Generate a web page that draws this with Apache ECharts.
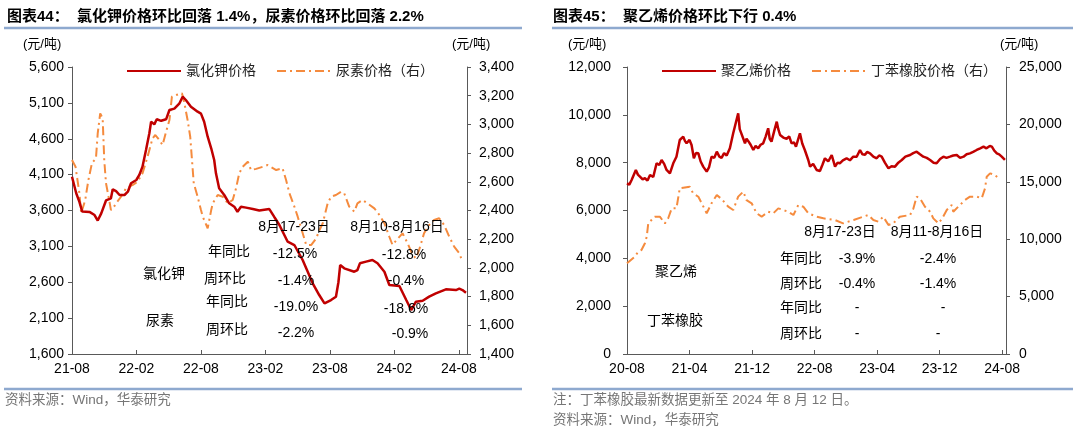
<!DOCTYPE html>
<html><head><meta charset="utf-8">
<script src="https://cdn.jsdelivr.net/npm/echarts@6/dist/echarts.min.js"></script>
<style>html,body{margin:0;padding:0;background:#fff}#c{width:1080px;height:433px}</style>
</head><body><div id="c"></div>
<script>
// ---------- Data ----------
const potashDates = ['2021-08-01','2021-08-13','2021-08-22','2021-08-30','2021-09-20','2021-10-04','2021-10-13','2021-10-23','2021-11-06','2021-11-20','2021-11-25','2021-12-04','2021-12-14','2021-12-28','2022-01-07','2022-01-16','2022-01-31','2022-02-09','2022-02-18','2022-02-28','2022-03-07','2022-03-12','2022-03-21','2022-03-28','2022-04-10','2022-04-24','2022-05-03','2022-05-17','2022-06-01','2022-06-10','2022-06-19','2022-07-03','2022-07-22','2022-08-01','2022-08-10','2022-08-20','2022-08-30','2022-09-08','2022-09-13','2022-09-22','2022-10-06','2022-10-20','2022-11-04','2022-11-13','2022-11-23','2022-12-07','2022-12-26','2023-01-14','2023-02-12','2023-02-26','2023-03-10','2023-04-03','2023-04-22','2023-05-15','2023-06-13','2023-07-01','2023-07-16','2023-08-04','2023-08-18','2023-08-25','2023-08-30','2023-09-11','2023-10-09','2023-10-18','2023-10-25','2023-11-12','2023-11-30','2023-12-14','2024-01-03','2024-01-17','2024-02-15','2024-03-04','2024-03-18','2024-04-01','2024-04-20','2024-05-08','2024-05-27','2024-06-25','2024-07-23','2024-08-02','2024-08-11','2024-08-21'];
const potashValues = [4070,3840,3720,3585,3580,3537,3460,3560,3740,3770,3895,3870,3816,3816,3862,3979,4025,4095,4211,4443,4676,4838,4800,4871,4850,4871,5001,5020,5094,5186,5140,5047,4977,4950,4838,4629,4467,4304,4118,3909,3816,3700,3653,3583,3653,3640,3620,3600,3620,3510,3398,3165,3119,2910,2585,2422,2306,2352,2399,2600,2840,2794,2747,2770,2864,2887,2910,2864,2747,2561,2547,2352,2213,2329,2343,2399,2445,2501,2491,2510,2491,2454];

const ureaDates = ['2021-08-01','2021-08-11','2021-08-22','2021-08-27','2021-09-08','2021-09-17','2021-09-27','2021-10-08','2021-10-13','2021-10-20','2021-10-27','2021-11-01','2021-11-06','2021-11-15','2021-11-20','2021-11-27','2021-12-04','2021-12-18','2022-01-02','2022-01-21','2022-02-04','2022-02-18','2022-03-02','2022-03-16','2022-03-24','2022-04-05','2022-04-14','2022-04-24','2022-05-03','2022-05-10','2022-05-22','2022-06-08','2022-06-15','2022-06-24','2022-07-01','2022-07-06','2022-07-11','2022-07-22','2022-08-01','2022-08-06','2022-08-20','2022-08-30','2022-09-04','2022-09-18','2022-10-02','2022-10-16','2022-10-30','2022-11-09','2022-11-18','2022-11-28','2022-12-12','2022-12-21','2023-01-05','2023-01-24','2023-02-07','2023-03-01','2023-03-19','2023-03-29','2023-04-08','2023-04-22','2023-05-01','2023-05-11','2023-05-25','2023-06-09','2023-06-23','2023-07-01','2023-07-11','2023-07-18','2023-07-25','2023-08-04','2023-08-18','2023-09-02','2023-09-11','2023-09-25','2023-10-09','2023-10-18','2023-11-02','2023-11-16','2023-12-05','2023-12-19','2024-01-03','2024-01-17','2024-01-26','2024-02-09','2024-02-24','2024-03-08','2024-03-22','2024-04-01','2024-04-10','2024-04-24','2024-05-08','2024-05-22','2024-06-06','2024-06-20','2024-07-04','2024-07-18','2024-08-02','2024-08-11'];
const ureaValues = [2752,2705,2520,2380,2473,2612,2729,2764,2938,3077,3042,2752,2590,2473,2403,2420,2450,2496,2555,2578,2601,2659,2775,2903,2926,2891,2856,2949,3031,3193,3205,3217,3147,3031,2914,2752,2590,2496,2403,2357,2276,2403,2450,2508,2496,2450,2473,2555,2659,2705,2740,2682,2690,2705,2717,2682,2694,2612,2520,2427,2357,2276,2160,2160,2206,2260,2311,2380,2450,2496,2508,2531,2520,2427,2392,2450,2473,2450,2415,2370,2311,2217,2160,2200,2241,2171,2090,2067,2125,2241,2299,2334,2346,2299,2217,2148,2102,2044];

const peDates = ['2020-08-01','2020-08-10','2020-08-19','2020-09-05','2020-09-13','2020-09-21','2020-10-01','2020-10-10','2020-10-20','2020-10-30','2020-11-12','2020-11-25','2020-12-05','2020-12-14','2020-12-24','2021-01-03','2021-01-16','2021-01-29','2021-02-11','2021-02-24','2021-03-07','2021-03-14','2021-03-20','2021-04-01','2021-04-09','2021-04-18','2021-04-26','2021-05-05','2021-05-14','2021-05-24','2021-06-07','2021-06-16','2021-06-26','2021-07-06','2021-07-16','2021-07-26','2021-08-04','2021-08-14','2021-08-24','2021-09-06','2021-09-19','2021-10-08','2021-10-14','2021-10-21','2021-11-04','2021-11-10','2021-11-17','2021-11-26','2021-12-06','2021-12-15','2021-12-25','2022-01-04','2022-01-14','2022-01-24','2022-02-03','2022-02-09','2022-02-16','2022-02-26','2022-03-06','2022-03-12','2022-03-19','2022-04-01','2022-04-14','2022-04-24','2022-05-03','2022-05-12','2022-05-20','2022-06-05','2022-06-14','2022-06-24','2022-07-07','2022-07-14','2022-07-26','2022-08-09','2022-08-22','2022-09-01','2022-09-11','2022-09-24','2022-10-07','2022-10-20','2022-10-30','2022-11-08','2022-11-20','2022-12-04','2022-12-17','2022-12-30','2023-01-13','2023-01-26','2023-02-05','2023-02-15','2023-02-23','2023-03-04','2023-03-17','2023-03-30','2023-04-09','2023-04-19','2023-05-01','2023-05-15','2023-05-27','2023-06-10','2023-06-23','2023-07-06','2023-07-20','2023-08-08','2023-08-20','2023-09-03','2023-09-16','2023-09-29','2023-10-12','2023-10-25','2023-11-08','2023-11-20','2023-12-03','2023-12-16','2023-12-28','2024-01-11','2024-01-24','2024-02-07','2024-02-20','2024-03-03','2024-03-15','2024-03-28','2024-04-10','2024-04-24','2024-05-07','2024-05-20','2024-06-01','2024-06-07','2024-06-14','2024-06-22','2024-07-01','2024-07-11','2024-07-20','2024-07-30','2024-08-12'];
const peValues = [7137,7080,7275,7694,7500,7415,7300,7350,7250,7485,7400,7973,7900,8112,7950,7694,7555,7973,8250,8948,9086,8900,8810,8950,8739,8183,8400,8392,8050,7833,7624,7800,8250,8200,8459,8250,8200,8400,8300,8601,9227,10064,9400,9366,8810,9000,8900,8750,8530,8700,8600,8750,8810,9100,9437,9000,8878,9300,9714,9400,9157,9050,9000,9100,8810,8850,8670,9227,8800,8530,8112,7833,7950,7694,7650,7900,8183,8050,8321,7833,8000,7973,8100,8183,8100,8250,8250,8530,8350,8330,8450,8392,8250,8183,8300,8250,8000,7764,7850,7833,8000,8112,8250,8321,8400,8459,8350,8250,8200,8112,8000,7973,8150,8250,8200,8250,8300,8321,8200,8250,8350,8390,8450,8530,8600,8670,8600,8600,8700,8670,8500,8392,8350,8250,8112];

const sbrDates = ['2020-08-01','2020-09-01','2020-09-14','2020-09-27','2020-10-10','2020-10-17','2020-10-23','2020-11-05','2020-11-18','2020-12-07','2020-12-27','2021-01-09','2021-01-23','2021-02-11','2021-02-24','2021-03-01','2021-04-02','2021-04-15','2021-05-05','2021-05-18','2021-06-07','2021-06-26','2021-07-16','2021-08-04','2021-08-30','2021-09-19','2021-10-08','2021-10-28','2021-11-10','2021-11-30','2021-12-19','2022-01-08','2022-02-03','2022-02-23','2022-03-12','2022-04-01','2022-04-20','2022-05-10','2022-05-29','2022-06-18','2022-07-07','2022-08-09','2022-09-05','2022-10-20','2022-11-21','2023-01-01','2023-02-08','2023-02-28','2023-03-17','2023-04-06','2023-04-25','2023-05-15','2023-06-03','2023-06-29','2023-08-08','2023-08-21','2023-09-03','2023-09-16','2023-10-05','2023-10-25','2023-11-07','2023-11-27','2023-12-11','2023-12-29','2024-01-18','2024-01-24','2024-02-13','2024-03-09','2024-03-28','2024-04-24','2024-05-13','2024-05-26','2024-06-02','2024-06-15','2024-07-04','2024-07-17'];
const sbrValues = [7902,8477,8912,9058,9640,10220,11381,11671,11962,11962,11381,11800,12687,12687,14434,14578,14578,13998,13700,13128,12257,13128,13853,13500,12832,12540,13707,14143,13400,13128,12257,11962,12397,12250,12687,12540,12397,12107,12980,12830,12257,11962,11817,11671,11381,11671,11962,12107,11671,11530,11962,11237,11380,11962,12107,12687,13707,13563,12832,12397,11817,11381,11800,12542,12980,12397,12832,13418,13707,13707,13563,14434,15446,15737,15592,15301];

const leftXTicks = [0, 6, 12, 18, 24, 30, 36];        // months from 2021-08
const rightXTicks = [0, 8, 16, 24, 32, 40, 48];       // months from 2020-08
const potashTicks = [1600, 2100, 2600, 3100, 3600, 4100, 4600, 5100, 5600];

// ---------- Helpers ----------
const FONT = "'Liberation Sans', Arial, 'Noto Sans CJK SC', sans-serif";
const CJK = "'Liberation Sans', 'Noto Sans CJK SC', sans-serif";
function monthIndex(d, by, bm) {
  const [y, m, dd] = d.split('-').map(Number);
  return (y - by) * 12 + (m - bm) + (dd - 1) / 30.5;
}
function pairs(dates, vals, by, bm) { return dates.map((d, i) => [monthIndex(d, by, bm), vals[i]]); }
function ymLabel(v, by, bm) {
  const t = bm - 1 + Math.round(v);
  const y = by + Math.floor(t / 12), m = (t % 12) + 1;
  return String(y).slice(2) + '-' + (m < 10 ? '0' : '') + m;
}
function thousands(v) { return String(v).replace(/\B(?=(\d{3})+(?!\d))/g, ','); }

const RED = '#C00000', ORANGE = '#F58B3E', AXIS = '#595959', BLUE = '#8EA9CF';

function xAxis(grid, max, ticks, by, bm) {
  return {
    type: 'value', gridIndex: grid, min: 0, max: max,
    axisLine: { show: true, onZero: false, lineStyle: { color: AXIS, width: 1 } },
    axisTick: { show: true, inside: true, length: 4, customValues: ticks, lineStyle: { color: AXIS } },
    axisLabel: { customValues: ticks, color: '#000', fontSize: 14, fontFamily: FONT, margin: 8,
      formatter: v => ymLabel(v, by, bm) },
    splitLine: { show: false }
  };
}
function yAxis(grid, pos, min, max, opts) {
  const a = {
    type: 'value', gridIndex: grid, position: pos, min: min, max: max,
    axisLine: { show: true, lineStyle: { color: AXIS, width: 1 } },
    axisTick: { show: true, length: 4, lineStyle: { color: AXIS } },
    axisLabel: { color: '#000', fontSize: 14, fontFamily: FONT, margin: opts.margin, formatter: v => thousands(v) },
    splitLine: { show: false }
  };
  if (opts.interval) a.interval = opts.interval;
  if (opts.ticks) { a.axisLabel.customValues = opts.ticks; a.axisTick.customValues = opts.ticks; }
  return a;
}
function txt(text, x, y, o) {
  o = o || {};
  return { type: 'text', x: x, y: y, z: 100, style: {
    text: text, fill: o.fill || '#000', font: (o.weight || 'normal') + ' ' + (o.size || 14) + 'px ' + (o.family || CJK),
    align: o.align || 'center', verticalAlign: 'middle' } };
}
function hline(x1, x2, y) {
  return { type: 'line', z: 100, shape: { x1: x1, y1: y, x2: x2, y2: y }, style: { stroke: BLUE, lineWidth: 2.5 } };
}

const graphics = [
  txt('图表44：  氯化钾价格环比回落 1.4%，尿素价格环比回落 2.2%', 7, 17, { align: 'left', weight: 'bold', size: 15 }),
  txt('图表45：  聚乙烯价格环比下行 0.4%', 553, 17, { align: 'left', weight: 'bold', size: 15 }),
  hline(4, 522, 28), hline(552, 1073, 28),
  hline(4, 522, 389), hline(552, 1073, 389),
  txt('(元/吨)', 23, 44, { align: 'left', size: 13 }),
  txt('(元/吨)', 452, 44, { align: 'left', size: 13 }),
  txt('(元/吨)', 568, 44, { align: 'left', size: 13 }),
  txt('(元/吨)', 1000, 44, { align: 'left', size: 13 }),
  txt('资料来源：Wind，华泰研究', 5, 400, { align: 'left', size: 13.5, fill: '#767676' }),
  txt('注：丁苯橡胶最新数据更新至 2024 年 8 月 12 日。', 553, 400, { align: 'left', size: 13.5, fill: '#767676' }),
  txt('资料来源：Wind，华泰研究', 553, 420, { align: 'left', size: 13.5, fill: '#767676' }),
  // left table
  txt('8月17-23日', 294, 227), txt('8月10-8月16日', 397, 227),
  txt('年同比', 229, 252), txt('-12.5%', 295, 254), txt('-12.8%', 404, 255),
  txt('氯化钾', 164, 274),
  txt('周环比', 225, 279), txt('-1.4%', 296, 281), txt('-0.4%', 406, 281),
  txt('年同比', 227, 302), txt('-19.0%', 296, 307), txt('-18.6%', 406, 309),
  txt('尿素', 160, 321),
  txt('周环比', 227, 330), txt('-2.2%', 296, 333), txt('-0.9%', 410, 334),
  // right table
  txt('8月17-23日', 840, 232), txt('8月11-8月16日', 937, 232),
  txt('年同比', 801, 259), txt('-3.9%', 857, 259), txt('-2.4%', 938, 259),
  txt('聚乙烯', 676, 272),
  txt('周环比', 801, 284), txt('-0.4%', 857, 284), txt('-1.4%', 938, 284),
  txt('年同比', 801, 308), txt('-', 857, 308), txt('-', 943, 308),
  txt('丁苯橡胶', 675, 321),
  txt('周环比', 801, 334), txt('-', 857, 334), txt('-', 938, 334)
];

const dashed = { color: ORANGE, width: 2, type: [9, 4, 2, 4] };
const legendBase = { top: 59, itemWidth: 54, itemHeight: 14, itemGap: 20,
  itemStyle: { opacity: 0 },
  textStyle: { fontSize: 14, fontFamily: CJK, color: '#222' } };

const option = {
  animation: false,
  backgroundColor: '#fff',
  grid: [
    { left: 72, right: 1080 - 467, top: 67, bottom: 433 - 354 },
    { left: 627, right: 1080 - 1006, top: 67, bottom: 433 - 354 }
  ],
  legend: [
    Object.assign({ left: 121, data: ['氯化钾价格', '尿素价格（右）'] }, legendBase),
    Object.assign({ left: 656, data: ['聚乙烯价格', '丁苯橡胶价格（右）'] }, legendBase)
  ],
  xAxis: [
    xAxis(0, 36.75, leftXTicks, 2021, 8),
    xAxis(1, 48.5, rightXTicks, 2020, 8)
  ],
  yAxis: [
    yAxis(0, 'left', 1600, 5600, { ticks: potashTicks, margin: 8 }),
    yAxis(0, 'right', 1400, 3400, { interval: 200, margin: 12 }),
    yAxis(1, 'left', 0, 12000, { interval: 2000, margin: 16 }),
    yAxis(1, 'right', 0, 25000, { interval: 5000, margin: 13 })
  ],
  series: [
    { name: '尿素价格（右）', type: 'line', xAxisIndex: 0, yAxisIndex: 1, data: pairs(ureaDates, ureaValues, 2021, 8),
      showSymbol: false, symbol: 'none', lineStyle: dashed, itemStyle: { color: ORANGE } },
    { name: '氯化钾价格', type: 'line', xAxisIndex: 0, yAxisIndex: 0, data: pairs(potashDates, potashValues, 2021, 8),
      showSymbol: false, symbol: 'none', lineStyle: { color: RED, width: 2.5 }, itemStyle: { color: RED } },
    { name: '丁苯橡胶价格（右）', type: 'line', xAxisIndex: 1, yAxisIndex: 3, data: pairs(sbrDates, sbrValues, 2020, 8),
      showSymbol: false, symbol: 'none', lineStyle: dashed, itemStyle: { color: ORANGE } },
    { name: '聚乙烯价格', type: 'line', xAxisIndex: 1, yAxisIndex: 2, data: pairs(peDates, peValues, 2020, 8),
      showSymbol: false, symbol: 'none', lineStyle: { color: RED, width: 2.5 }, itemStyle: { color: RED } }
  ],
  graphic: graphics
};
echarts.init(document.getElementById('c'), null, { renderer: 'canvas' }).setOption(option);
</script>
</body></html>
